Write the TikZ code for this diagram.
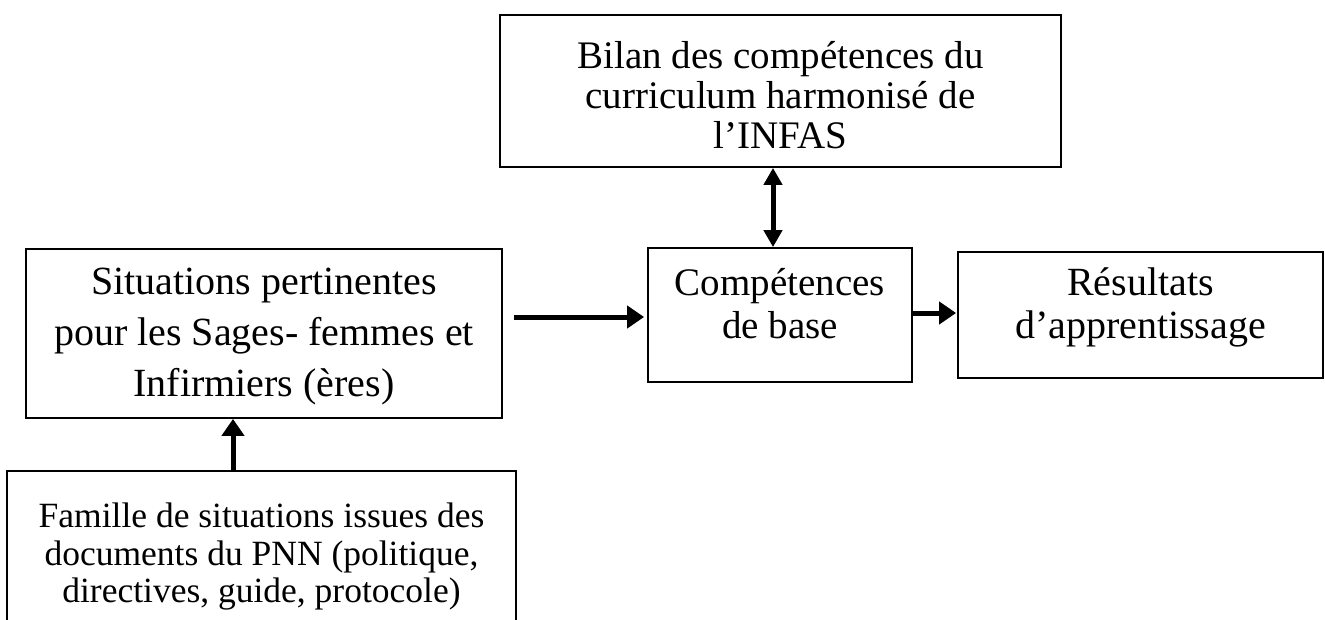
\documentclass[tikz,border=0pt]{standalone}
\usepackage{fontspec}
\setmainfont{Liberation Serif}
\usetikzlibrary{arrows.meta,calc}
\begin{document}
\begin{tikzpicture}[x=1pt,y=-1pt,
  box/.style={draw, line width=1.8pt, inner sep=0pt},
  txt/.style={align=center, inner sep=0pt},
  arr/.style={line width=5pt, -{Triangle[length=17pt,width=22pt]}},
  darr/.style={line width=5pt, {Triangle[length=17pt,width=18pt]}-{Triangle[length=17pt,width=18pt]}}]
\useasboundingbox (0,0) rectangle (1325,619);
\clip (0,0) rectangle (1325,619);
% boxes
\node[box, minimum width=561pt, minimum height=152pt] (top) at (780.5,91) {};
\node[box, minimum width=476pt, minimum height=169pt] (left) at (264,333.5) {};
\node[box, minimum width=264pt, minimum height=134pt] (mid) at (780,315) {};
\node[box, minimum width=365pt, minimum height=126pt] (res) at (1140.5,315) {};
\node[box, minimum width=509pt, minimum height=170pt] (bot) at (261.5,556) {};
% texts
\node[txt, font=\fontsize{39}{40}\selectfont] (topt) at ($(top.center)+(0,3.7)$)
  {Bilan des compétences du\\curriculum harmonisé de\\l’INFAS};
\node[txt, font=\fontsize{40}{51}\selectfont] (leftt) at ($(left.center)+(0,3)$)
  {Situations pertinentes\\pour les Sages- femmes et\\Infirmiers (ères)};
\node[txt, font=\fontsize{39}{43}\selectfont] (midt) at ($(mid.center)+(0,-11.8)$)
  {Compétences\\de base};
\node[txt, font=\fontsize{40}{43}\selectfont] (rest) at ($(res.center)+(0,-7.8)$)
  {Résultats\\d’apprentissage};
\node[txt, font=\fontsize{35.5}{37.5}\selectfont] (bott) at ($(bot.center)+(0,1)$)
  {Famille de situations issues des\\documents du PNN (politique,\\directives, guide, protocole)};
% connectors
\draw[darr] ($(top.south)+(-7.5,0)$) -- ($(mid.north)+(-7,0)$);
\draw[arr] ($(left.east |- mid.west)+(11,2)$) -- ($(mid.west)+(-3,2)$);
\draw[arr] ($(mid.east)+(0,-2)$) -- ($(res.west)+(-1,-2)$);
\draw[arr] ($(bot.north)+(-28.5,0)$) -- ($(left.south)+(-31,0)$);
\end{tikzpicture}
\end{document}
